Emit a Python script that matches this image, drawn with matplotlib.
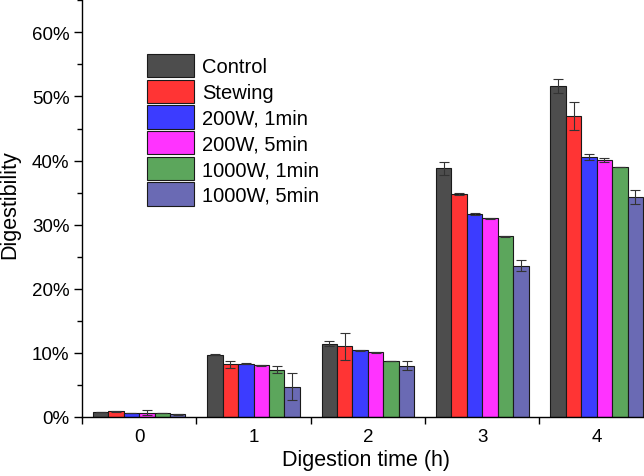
import numpy as np
import matplotlib
matplotlib.use("Agg")
import matplotlib.pyplot as plt
from matplotlib.ticker import PercentFormatter, MultipleLocator

plt.rcParams['font.family'] = ['Liberation Sans', 'DejaVu Sans']

# digestion time groups
times = ['0', '1', '2', '3', '4']
labels = ['Control', 'Stewing', '200W, 1min', '200W, 5min', '1000W, 1min', '1000W, 5min']
colors = ['#4d4d4d', '#ff3434', '#3c3cff', '#ff33ff', '#5ca65c', '#6a6ab4']

# digestibility (%) per treatment, one value per time point
control = [0.8, 9.7, 11.45, 38.8, 51.7]
stewing = [0.9, 8.2, 11.0, 34.8, 46.9]
w200_1 = [0.65, 8.3, 10.4, 31.7, 40.5]
w200_5 = [0.7, 8.05, 10.1, 31.0, 40.1]
w1000_1 = [0.6, 7.4, 8.75, 28.2, 39.0]
w1000_5 = [0.4, 4.75, 8.0, 23.6, 34.3]

# standard deviations (%)
control_err = [0.05, 0.1, 0.45, 1.0, 1.1]
stewing_err = [0.1, 0.6, 2.1, 0.1, 2.2]
w200_1_err = [0.05, 0.1, 0.1, 0.15, 0.45]
w200_5_err = [0.45, 0.1, 0.1, 0.1, 0.25]
w1000_1_err = [0.05, 0.5, 0.05, 0.1, 0.05]
w1000_5_err = [0.1, 2.1, 0.7, 0.9, 1.05]

series = [control, stewing, w200_1, w200_5, w1000_1, w1000_5]
errors = [control_err, stewing_err, w200_1_err, w200_5_err, w1000_1_err, w1000_5_err]

fig = plt.figure(figsize=(6.44, 4.77), dpi=100)
ax = fig.add_axes([0.1273, 0.1237, 0.888, 0.8736])

x = np.arange(len(times))
bw = 0.135
for i, (vals, errs) in enumerate(zip(series, errors)):
    pos = x + (i - 2.5) * bw
    ax.bar(pos, vals, bw, color=colors[i], edgecolor='#1a1a1a', linewidth=0.8,
           label=labels[i], zorder=2)
    ax.errorbar(pos, vals, yerr=errs, fmt='none', ecolor='#333333', elinewidth=0.8,
                capsize=3.5, capthick=0.8, zorder=3)

ax.set_xlim(-0.5, 4.5)
ax.set_ylim(0, 65)
ax.yaxis.set_major_formatter(PercentFormatter(decimals=0))
ax.yaxis.set_major_locator(MultipleLocator(10))
ax.yaxis.set_minor_locator(MultipleLocator(5))
ax.set_xticks(x)
ax.set_xticklabels(times)
ax.set_xticks(np.arange(-0.5, 5, 1), minor=True)

ax.tick_params(axis='y', which='major', direction='out', length=6, width=1, labelsize=13.5, pad=3)
ax.tick_params(axis='y', which='minor', direction='out', length=3.5, width=1)
ax.tick_params(axis='x', which='major', length=0, labelsize=13.5, pad=8)
ax.tick_params(axis='x', which='minor', direction='out', length=5, width=1)

for s in ['top', 'right']:
    ax.spines[s].set_visible(False)
for s in ['left', 'bottom']:
    ax.spines[s].set_linewidth(1.0)

ax.set_xlabel('Digestion time (h)', fontsize=15.5)
ax.set_ylabel('Digestibility', fontsize=15.5)
ax.xaxis.set_label_coords(0.497, -0.076)
ax.yaxis.set_label_coords(-0.108, 0.511)

ax.legend(loc='upper left', bbox_to_anchor=(0.113, 0.871), frameon=False,
          fontsize=14.5, handlelength=2.37, handleheight=1.4, labelspacing=0.12,
          handletextpad=0.37, borderpad=0, borderaxespad=0)

fig.savefig('out.png', dpi=100)
